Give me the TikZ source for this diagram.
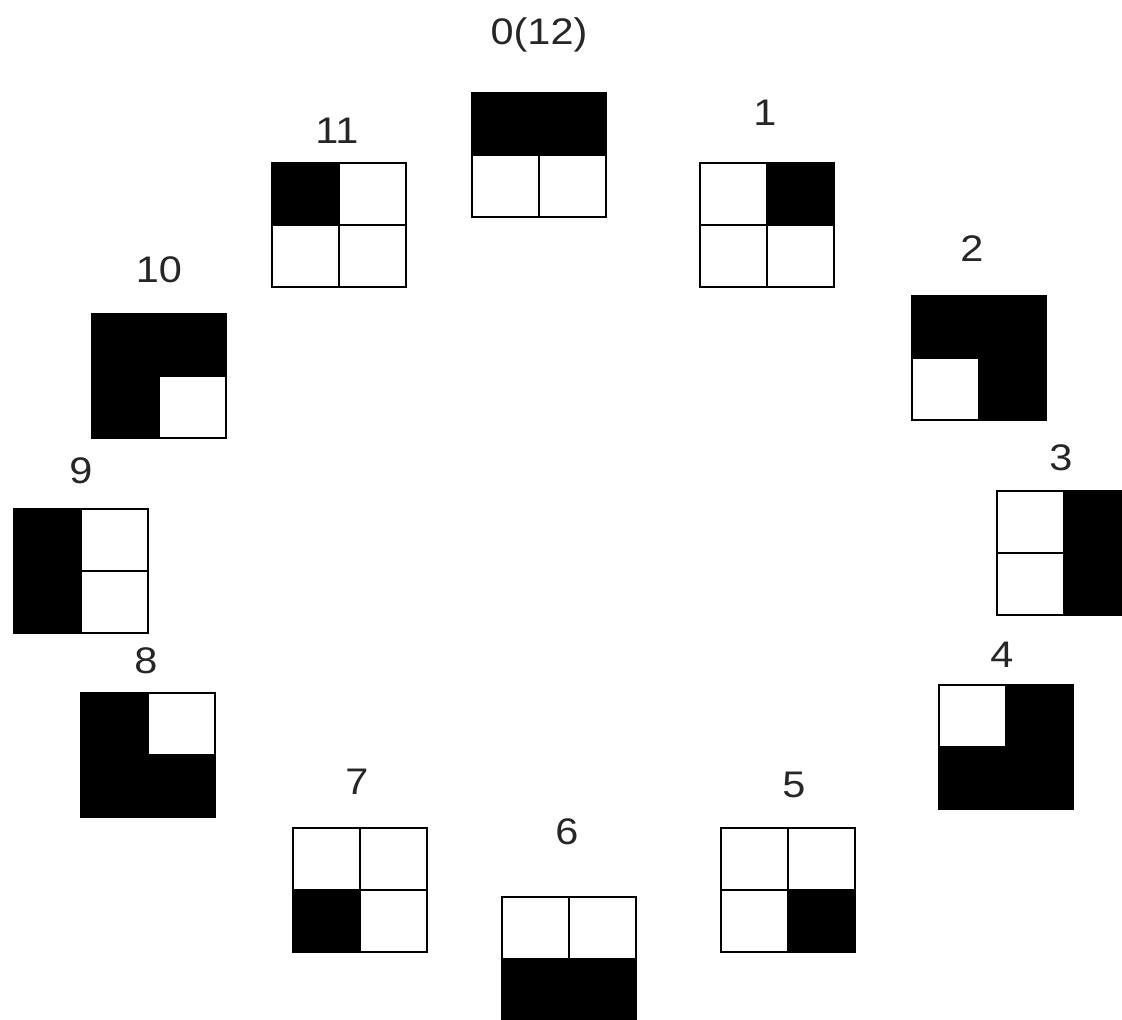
\documentclass[tikz,border=0pt]{standalone}
\usepackage{fontspec}
\setmainfont{Liberation Sans}
\newfontfamily\lblfont[FakeStretch=1.12]{Liberation Sans}
\begin{document}
\begin{tikzpicture}[x=1pt,y=-1pt,
  gridbox/.style={minimum width=134pt, minimum height=124pt, inner sep=0pt, outer sep=0pt, anchor=north west},
  gridline/.style={draw=black, line width=2.4pt},
  cellfill/.style={fill=black},
  lbl/.style={font=\lblfont\fontsize{37}{44}\selectfont, text=black!85, inner sep=0pt}]
\useasboundingbox (0,0) rectangle (1122,1020);
\fill[white] (0,0) rectangle (1122,1020);
\foreach \n/\x/\y/\a/\b/\c/\d/\t/\lx/\ly in {
  0/472/93/1/1/0/0/0(12)/539/35,
  1/700/163/0/1/0/0/1/765/113,
  2/912/296/1/1/0/1/2/972/249,
  3/997/491/0/1/0/1/3/1061/458,
  4/939/685/0/1/1/1/4/1002/655,
  5/721/828/0/0/0/1/5/794/785,
  6/502/897/0/0/1/1/6/567/832,
  7/293/828/0/0/1/0/7/357/782,
  8/81/693/1/0/1/1/8/146/661,
  9/14/509/1/0/1/0/9/81/471,
  10/92/314/1/1/1/0/10/159/270,
  11/272/163/1/0/0/0/11/337/131}{
  \path node[gridbox] (g\n) at (\x,\y) {};
  \ifnum\a=1 \fill[cellfill] (g\n.north west) rectangle (g\n.center);\fi
  \ifnum\b=1 \fill[cellfill] (g\n.north) rectangle (g\n.east);\fi
  \ifnum\c=1 \fill[cellfill] (g\n.west) rectangle (g\n.south);\fi
  \ifnum\d=1 \fill[cellfill] (g\n.center) rectangle (g\n.south east);\fi
  \draw[gridline] (g\n.north) -- (g\n.south) (g\n.west) -- (g\n.east);
  \draw[gridline] (g\n.north west) rectangle (g\n.south east);
  \node[lbl] (l\n) at (\lx,\ly) {\t};
}
\end{tikzpicture}
\end{document}
